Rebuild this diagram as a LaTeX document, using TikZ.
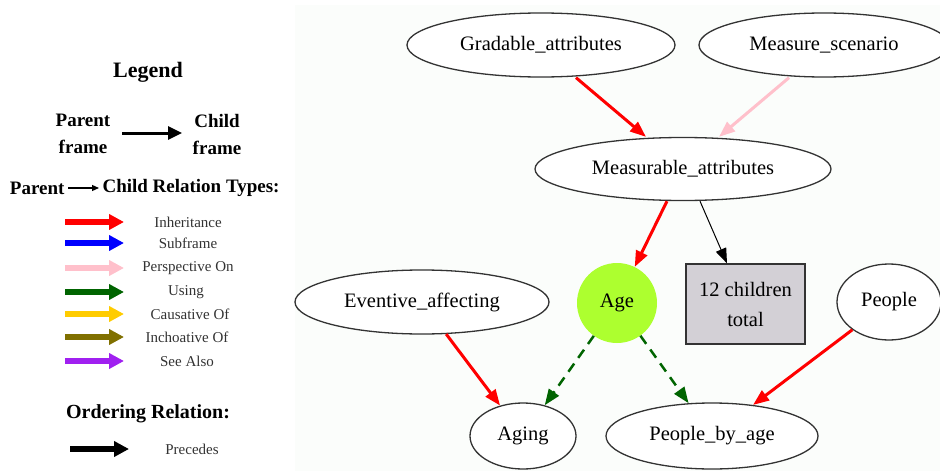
\documentclass[tikz,border=0pt]{standalone}
\usepackage{fontspec}
\setmainfont{Liberation Serif}
\usetikzlibrary{arrows.meta,shapes.geometric}

\definecolor{panelbg}{RGB}{251,253,251}
\definecolor{inhred}{RGB}{255,0,0}
\definecolor{subblue}{RGB}{0,0,255}
\definecolor{perspink}{RGB}{255,192,203}
\definecolor{usinggreen}{RGB}{0,100,0}
\definecolor{causgold}{RGB}{255,204,0}
\definecolor{inchbrown}{RGB}{128,112,0}
\definecolor{seepurple}{RGB}{160,32,240}
\definecolor{agegreen}{RGB}{173,255,47}
\definecolor{boxgrey}{RGB}{211,208,214}

\tikzset{
  frame/.style={ellipse, draw=black!80, line width=1.3pt, fill=white,
    inner sep=0pt, font=\fontsize{20.5}{23}\selectfont},
  legtitle/.style={font=\bfseries\fontsize{22}{24}\selectfont},
  leghead/.style={font=\bfseries\fontsize{19}{27}\selectfont, align=center},
  legsmall/.style={text=black!80, font=\fontsize{15}{17}\selectfont},
  legarrow/.style={line width=6pt, -{Triangle[length=15pt,width=15pt]}},
  relinh/.style={draw=inhred, line width=3pt, -{Triangle[length=16pt,width=12pt]}},
  relpers/.style={draw=perspink, line width=3pt, -{Triangle[length=16pt,width=12pt]}},
  relusing/.style={draw=usinggreen, line width=2.5pt, dash pattern=on 10pt off 7pt,
    -{Triangle[length=16pt,width=12pt]}},
  relplain/.style={draw=black, line width=1pt, -{Triangle[length=15pt,width=11pt]}}
}

\begin{document}
\begin{tikzpicture}[x=1pt,y=-1pt]
  \useasboundingbox (0,0) rectangle (940,471);
  \fill[white] (0,0) rectangle (940,471);
  \fill[panelbg] (295,5) rectangle (940,471);

  % ---------- legend ----------
  \node[legtitle] (ltitle) at (148,72) {Legend};
  \node[leghead] (lparent) at (83,134) {Parent\\frame};
  \node[leghead] (lchild) at (217,134) {Child\\frame};
  \coordinate (pa) at (122,133);
  \coordinate (pb) at (182,133);
  \draw[line width=3pt, -{Triangle[length=14pt,width=13pt]}] (pa) -- (pb);

  \node[font=\bfseries\fontsize{19}{21}\selectfont, anchor=east] (ltypesl) at (68,188) {Parent};
  \node[font=\bfseries\fontsize{19}{21}\selectfont, anchor=west] (ltypesr) at (99,188) {Child Relation Types:};
  \draw[line width=1.2pt, -{Triangle[length=7pt,width=6pt]}] (ltypesl.east) -- (ltypesr.west);

  \foreach \y/\c/\t/\xx in {222/inhred/Inheritance/188,
                            243/subblue/Subframe/188,
                            268/perspink/Perspective On/188,
                            292/usinggreen/Using/186,
                            314/causgold/Causative Of/190,
                            337/inchbrown/Inchoative Of/187,
                            361/seepurple/See Also/187}{
    \coordinate (la\y) at (65,\y);
    \coordinate (lb\y) at (124,\y);
    \draw[legarrow, draw=\c, fill=\c] (la\y) -- (lb\y);
    \node[legsmall] (lt\y) at (\xx,\y) {\t};
  }

  \node[font=\bfseries\fontsize{20}{22}\selectfont] (lorder) at (148,414) {Ordering Relation:};
  \coordinate (lpa) at (70,449);
  \coordinate (lpb) at (129,449);
  \draw[legarrow, draw=black, fill=black] (lpa) -- (lpb);
  \node[legsmall] (lprec) at (192,449) {Precedes};

  % ---------- frame graph ----------
  \node[frame, minimum width=268pt, minimum height=64pt] (grad) at (541,45) {Gradable\_attributes};
  \node[frame, minimum width=250pt, minimum height=64pt] (meas) at (824,45) {Measure\_scenario};
  \node[frame, minimum width=296pt, minimum height=63pt] (matt) at (683,169) {Measurable\_attributes};
  \node[circle, fill=agegreen, minimum size=80pt, inner sep=0pt,
        font=\fontsize{20.5}{23}\selectfont] (age) at (617,303) {Age};
  \node[rectangle, draw=black!80, line width=1.3pt, fill=boxgrey,
        minimum width=119pt, minimum height=80pt, align=center,
        font=\fontsize{20.5}{30}\selectfont] (kids) at (745.5,304) {12 children\\total};
  \node[frame, minimum width=254pt, minimum height=64pt] (event) at (422,302) {Eventive\_affecting};
  \node[frame, minimum width=104pt, minimum height=76pt] (people) at (889,302) {People};
  \node[frame, minimum width=106pt, minimum height=66pt] (aging) at (523,436) {Aging};
  \node[frame, minimum width=212pt, minimum height=66pt] (pba) at (712,436) {People\_by\_age};

  \draw[relinh] (grad.south -| 576,0) -- (matt.north -| 646,0);
  \draw[relpers] (meas.south -| 789,0) -- (matt.north -| 719,0);
  \draw[relinh] (matt.south -| 667,0) -- (age);
  \draw[relplain] (matt.south -| 700,0) -- (kids.north -| 727,0);
  \draw[relinh] (event) -- (aging);
  \draw[relusing] (age) -- (aging);
  \draw[relusing] (age) -- (pba);
  \draw[relinh] (people) -- (pba);
\end{tikzpicture}
\end{document}
